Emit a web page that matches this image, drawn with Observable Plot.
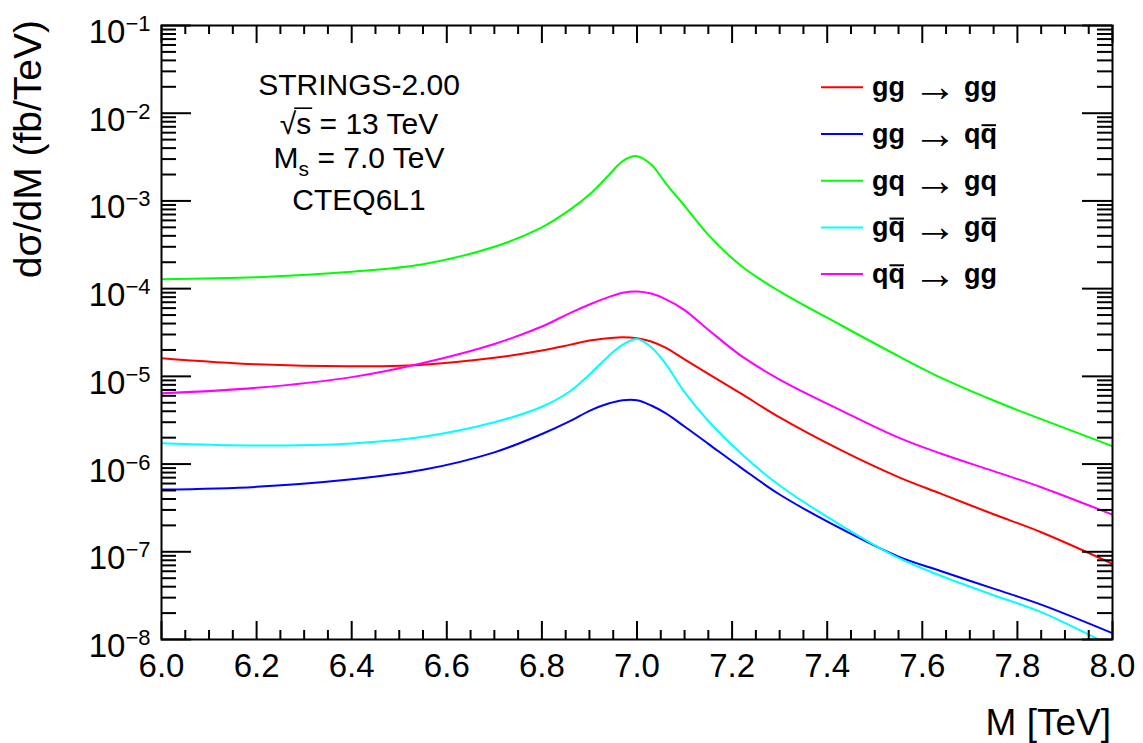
<!DOCTYPE html>
<html><head><meta charset="utf-8">
<script src="https://cdn.jsdelivr.net/npm/d3@7"></script>
<script src="https://cdn.jsdelivr.net/npm/@observablehq/plot@0.6"></script>
<style>
html,body{margin:0;padding:0;background:#fff;}
#chart svg{display:block;}
</style></head><body>
<div id="chart"></div>
<script>
// ---- data ----
const mass = [6.0, 6.2, 6.4, 6.55, 6.7, 6.8, 6.86, 6.9, 6.94, 6.97, 7.0, 7.03, 7.06, 7.1, 7.15, 7.22, 7.3, 7.43, 7.55, 7.64, 7.75, 7.85, 8.0];
const ggToGg = [1.61e-5, 1.37e-5, 1.30e-5, 1.36e-5, 1.63e-5, 1.97e-5, 2.3e-5, 2.56e-5, 2.72e-5, 2.79e-5, 2.72e-5, 2.5e-5, 2.12e-5, 1.56e-5, 1.07e-5, 6.3e-6, 3.4e-6, 1.43e-6, 7.1e-7, 4.57e-7, 2.68e-7, 1.67e-7, 7.3e-8];
const ggToQqbar = [5.12e-7, 5.5e-7, 6.7e-7, 8.6e-7, 1.36e-6, 2.2e-6, 3.1e-6, 4.05e-6, 4.9e-6, 5.35e-6, 5.35e-6, 4.65e-6, 3.8e-6, 2.68e-6, 1.7e-6, 9.0e-7, 4.5e-7, 1.82e-7, 8.8e-8, 6.0e-8, 3.8e-8, 2.5e-8, 1.18e-8];
const gqToGq = [1.28e-4, 1.35e-4, 1.56e-4, 1.9e-4, 3.0e-4, 5.0e-4, 8.0e-4, 1.18e-3, 1.95e-3, 2.85e-3, 3.24e-3, 2.6e-3, 1.6e-3, 8.8e-4, 4.1e-4, 1.8e-4, 9.3e-5, 3.8e-5, 1.7e-5, 9.6e-6, 5.3e-6, 3.25e-6, 1.6e-6];
const gqbarToGqbar = [1.73e-6, 1.63e-6, 1.72e-6, 2.05e-6, 3.0e-6, 4.5e-6, 6.8e-6, 1.05e-5, 1.7e-5, 2.3e-5, 2.67e-5, 2.15e-5, 1.4e-5, 6.6e-6, 3.1e-6, 1.3e-6, 5.7e-7, 1.99e-7, 8.5e-8, 5.3e-8, 3.2e-8, 2.05e-8, 8.3e-9];
const qqbarToGg = [6.4e-6, 7.4e-6, 9.8e-6, 1.42e-5, 2.34e-5, 3.7e-5, 5.3e-5, 6.6e-5, 8.0e-5, 9.0e-5, 9.3e-5, 8.8e-5, 7.6e-5, 5.7e-5, 3.4e-5, 1.7e-5, 9.2e-6, 4.07e-6, 2.0e-6, 1.31e-6, 8.3e-7, 5.45e-7, 2.65e-7];

const processes = ["gg \u2192 gg", "gg \u2192 qq\u0304", "gq \u2192 gq", "gq\u0304 \u2192 gq\u0304", "qq\u0304 \u2192 gg"];
const seriesValues = [ggToGg, ggToQqbar, gqToGq, gqbarToGqbar, qqbarToGg];
const colors = ["#ff0000", "#0000ff", "#00ff00", "#00ffff", "#ff00ff"];

const xMajor = [6.0, 6.2, 6.4, 6.6, 6.8, 7.0, 7.2, 7.4, 7.6, 7.8, 8.0];
const yMajor = [1e-8, 1e-7, 1e-6, 1e-5, 1e-4, 1e-3, 1e-2, 1e-1];
const infoLines = ["STRINGS-2.00", "\u221As = 13 TeV", "M_s = 7.0 TeV", "CTEQ6L1"];
const xTitle = "M [TeV]";
const yTitle = "d\u03C3/dM (fb/TeV)";

// ---- derived ----
const xMinor = d3.range(6.05, 8.0, 0.05).map(v => +v.toFixed(2)).filter(v => !xMajor.some(m => Math.abs(m - v) < 1e-6));
const yMinor = yMajor.slice(0, -1).flatMap(d => [2,3,4,5,6,7,8,9].map(k => k * d));
const rows = processes.flatMap((p, i) => mass.map((m, j) => ({process: p, M: m, v: seriesValues[i][j]})));

const W = 1143, H = 743;
const mL = 161, mR = 31, mT = 25, mB = 104;
const innerW = W - mL - mR, innerH = H - mT - mB;
const FONT = "'Liberation Sans', Arial, Helvetica, sans-serif";

const tickStyle = {stroke: "#000", strokeWidth: 2};
const chart = Plot.plot({
  width: W, height: H,
  marginLeft: mL, marginRight: mR, marginTop: mT, marginBottom: mB,
  style: {fontFamily: FONT, background: "#fff", color: "#000", overflow: "visible"},
  x: {domain: [6, 8]},
  y: {type: "log", domain: [1e-8, 1e-1]},
  color: {domain: processes, range: colors},
  marks: [
    Plot.line(rows, {x: "M", y: "v", z: "process", stroke: "process", strokeWidth: 2, curve: "catmull-rom", clip: true}),
    Plot.tickX(xMinor, {x: d => d, insetTop: innerH - 9, ...tickStyle}),
    Plot.tickX(xMinor, {x: d => d, insetBottom: innerH - 9, ...tickStyle}),
    Plot.tickX(xMajor, {x: d => d, insetTop: innerH - 18, ...tickStyle}),
    Plot.tickX(xMajor, {x: d => d, insetBottom: innerH - 18, ...tickStyle}),
    Plot.tickY(yMinor, {y: d => d, insetRight: innerW - 15, ...tickStyle}),
    Plot.tickY(yMinor, {y: d => d, insetLeft: innerW - 15, ...tickStyle}),
    Plot.tickY(yMajor, {y: d => d, insetRight: innerW - 30, ...tickStyle}),
    Plot.tickY(yMajor, {y: d => d, insetLeft: innerW - 30, ...tickStyle}),
    Plot.axisX(xMajor, {tickSize: 0, tickPadding: 14, tickFormat: d3.format(".1f"), fontSize: 33, label: null}),
    Plot.axisY(yMajor, {tickSize: 0, tickPadding: 11, dy: 7, tickFormat: d => String(Math.round(Math.log10(d))), fontSize: 33, label: null}),
    Plot.frame({stroke: "#000", strokeWidth: 2})
  ]
});
document.getElementById("chart").appendChild(chart);

const svg = d3.select(chart);
// superscript exponents on y tick labels
svg.selectAll('g[aria-label="y-axis tick label"] text').each(function() {
  const e = +this.textContent;
  const t = d3.select(this);
  t.text(null);
  t.append("tspan").text("10");
  t.append("tspan").attr("font-size", 22).attr("dy", -12).text("\u2212" + Math.abs(e));
});

const overlay = svg.append("g").attr("font-family", FONT).attr("fill", "#000").attr("text-anchor", "start");

function drawBar(node, yBase, fs) {
  const bb = node.getBBox();
  overlay.append("line").attr("x1", bb.x + 1).attr("x2", bb.x + bb.width - 1)
    .attr("y1", yBase - 0.66 * fs).attr("y2", yBase - 0.66 * fs)
    .attr("stroke", "#000").attr("stroke-width", 2);
}

// info block
const infoFs = 30, infoX = 359, infoY = [95, 134, 168, 210];
infoLines.forEach((line, i) => {
  const t = overlay.append("text").attr("x", infoX).attr("y", infoY[i]).attr("text-anchor", "middle").attr("font-size", infoFs);
  if (line.startsWith("\u221A")) {
    t.append("tspan").text("\u221A");
    const s = t.append("tspan").text(line[1]);
    t.append("tspan").text(line.slice(2));
    const bb = s.node().getBBox();
    overlay.append("line").attr("x1", bb.x - 2).attr("x2", bb.x + bb.width + 1)
      .attr("y1", infoY[i] - 0.86 * infoFs).attr("y2", infoY[i] - 0.86 * infoFs)
      .attr("stroke", "#000").attr("stroke-width", 1.6);
  } else if (line.includes("_")) {
    const [a, rest] = line.split("_");
    t.append("tspan").text(a);
    t.append("tspan").attr("font-size", 21).attr("dy", 8).text(rest[0]);
    t.append("tspan").attr("dy", -8).text(rest.slice(1));
  } else {
    t.text(line);
  }
});

// legend
const legFs = 27, legY0 = 87.3, legStep = 46.7;
processes.forEach((p, i) => {
  const y = legY0 + i * legStep;
  overlay.append("line").attr("x1", 821).attr("x2", 863).attr("y1", y).attr("y2", y)
    .attr("stroke", colors[i]).attr("stroke-width", 2);
  const base = y + 9;
  const t = overlay.append("text").attr("x", 872).attr("y", base).attr("text-anchor", "start")
    .attr("font-size", legFs).attr("font-weight", "bold");
  const [lhs, rhs] = p.split(" \u2192 ");
  const bars = [];
  const addPart = (str, dx, dy) => {
    let first = true;
    for (let k = 0; k < str.length; k++) {
      const ch = str[k];
      if (ch === "\u0304") continue;
      const ts = t.append("tspan").text(ch);
      if (first) { if (dx) ts.attr("dx", dx); if (dy) ts.attr("dy", dy); }
      first = false;
      if (str[k + 1] === "\u0304") bars.push(ts.node());
    }
  };
  addPart(lhs, 0, 0);
  t.append("tspan").attr("dx", 8).attr("dy", 5).attr("font-weight", "normal")
    .attr("font-size", 44).text("\u2192");
  addPart(rhs, 7, -5);
  bars.forEach(n => drawBar(n, base, legFs));
});

// axis titles
overlay.append("text").attr("x", 1111).attr("y", 735).attr("text-anchor", "end").attr("font-size", 37).text(xTitle);
overlay.append("text").attr("transform", "translate(41,20) rotate(-90)").attr("text-anchor", "end").attr("font-size", 39).text(yTitle);
</script>
</body></html>
